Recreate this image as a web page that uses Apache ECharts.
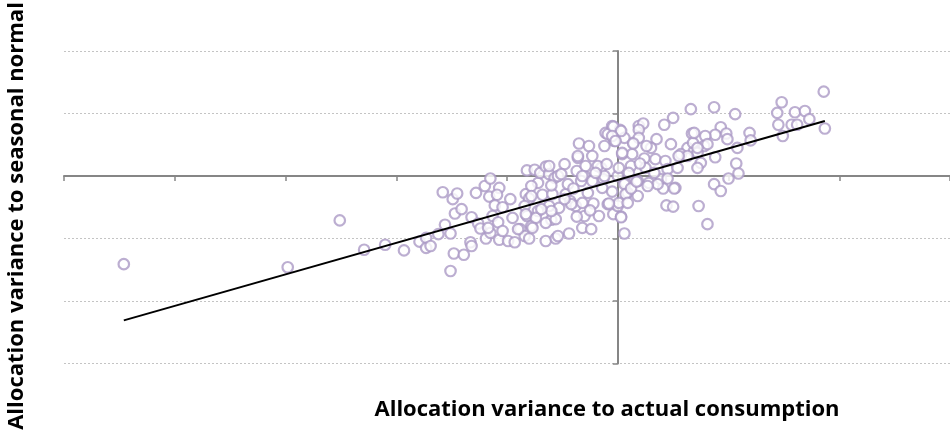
<!DOCTYPE html>
<html>
<head>
<meta charset="utf-8">
<script src="https://cdn.jsdelivr.net/npm/echarts@6/dist/echarts.min.js"></script>
<style>
  html, body { margin: 0; padding: 0; background: #fff; }
  #chart { width: 950px; height: 436px; }
</style>
</head>
<body>
<div id="chart"></div>
<script>
// axis titles
const xTitle = 'Allocation variance to actual consumption'
const yTitle = 'Allocation variance to seasonal normal'

// scatter points, [variance to actual, variance to seasonal normal] (axis units)
const points = [
  [-4.46, -1.41], [-2.98, -1.46], [-2.51, -0.71], [-2.29, -1.18], [-2.10, -1.10], [-1.93, -1.19],
  [-1.79, -1.05], [-1.73, -0.99], [-1.73, -1.15], [-1.69, -1.12], [-1.62, -0.93], [-1.56, -0.78],
  [-1.51, -0.92], [-1.58, -0.26], [-1.49, -0.37], [-1.45, -0.28], [-1.47, -0.60], [-1.41, -0.53],
  [-1.48, -1.24], [-1.39, -1.26], [-1.51, -1.52], [-1.32, -0.66], [-1.33, -1.06], [-1.32, -1.12],
  [-1.28, -0.27], [-1.26, -0.76], [-1.24, -0.84], [-1.20, -0.16], [-1.15, -0.04], [-1.16, -0.33],
  [-1.07, -0.19], [-1.09, -0.30], [-1.19, -1.00], [-1.15, -0.91], [-1.11, -0.47], [-1.04, -0.50],
  [-1.13, -0.64], [-1.08, -0.74], [-1.07, -1.02], [-1.04, -0.88], [-0.99, -1.04], [-0.97, -0.37],
  [-0.95, -0.67], [-0.93, -1.06], [-0.88, -0.85], [-0.84, -0.96], [-0.80, -1.00], [-0.82, -0.64],
  [-0.78, -0.80], [-0.82, 0.09], [-0.75, 0.10], [-0.83, -0.29], [-0.80, -0.36], [-0.72, -0.11],
  [-0.70, 0.05], [-0.65, 0.15], [-0.62, 0.03], [-0.68, -0.30], [-0.72, -0.56], [-0.62, -0.48],
  [-0.60, -0.70], [-0.65, -0.75], [-0.56, -0.69], [-0.53, -0.51], [-0.65, -1.04], [-0.56, -1.00],
  [-0.44, -0.92], [-0.57, -0.03], [-0.48, 0.19], [-0.54, 0.00], [-0.47, -0.29], [-0.43, -0.40],
  [-0.36, 0.29], [-0.35, 0.52], [-0.26, 0.48], [-0.23, 0.32], [-0.37, 0.08], [-0.30, 0.00],
  [-0.38, -0.48], [-0.30, -0.64], [-0.37, -0.65], [-0.32, -0.83], [-0.24, -0.85], [-0.33, -0.08],
  [-0.27, -0.27], [-0.22, -0.44], [-0.17, -0.64], [-0.13, -0.05], [-0.15, 0.13], [-0.12, 0.48],
  [-0.11, 0.69], [-0.05, 0.80], [-0.03, 0.56], [0.02, 0.74], [0.04, 0.35], [-0.04, -0.61],
  [0.03, -0.65], [0.06, -0.92], [-0.09, -0.45], [0.00, 0.00], [0.07, -0.11], [0.12, 0.16],
  [0.19, 0.80], [0.23, 0.84], [0.19, 0.74], [0.24, 0.28], [0.14, 0.53], [0.09, -0.27],
  [0.66, 1.07], [0.50, 0.93], [0.42, 0.82], [-0.09, 0.67], [0.06, 0.61], [0.19, 0.61],
  [0.35, 0.59], [0.48, 0.51], [0.30, 0.45], [0.26, 0.48], [0.67, 0.68], [0.63, 0.45],
  [0.69, 0.40], [0.57, 0.35], [0.13, 0.35], [0.34, 0.27], [0.43, 0.24], [-0.29, 0.16],
  [-0.18, 0.16], [-0.10, 0.19], [0.01, 0.13], [0.25, 0.13], [0.45, 0.11], [0.54, 0.13],
  [-0.23, -0.08], [0.18, -0.08], [0.28, -0.11], [0.39, -0.05], [0.52, -0.19], [-0.45, -0.13],
  [0.06, -0.13], [-0.14, -0.19], [1.86, 1.35], [1.48, 1.18], [0.87, 1.10], [1.06, 0.99],
  [1.44, 1.01], [1.60, 1.02], [1.69, 1.04], [1.73, 0.91], [1.45, 0.82], [1.57, 0.82],
  [1.62, 0.82], [1.87, 0.76], [1.49, 0.64], [0.93, 0.78], [0.88, 0.66], [0.79, 0.64],
  [0.98, 0.68], [1.19, 0.69], [0.99, 0.59], [1.20, 0.57], [0.78, 0.48], [1.08, 0.45],
  [0.72, 0.37], [0.75, 0.21], [0.88, 0.30], [1.07, 0.20], [1.09, 0.04], [1.00, -0.04],
  [0.87, -0.13], [0.93, -0.24], [0.72, 0.13], [0.68, 0.53], [0.81, 0.51], [0.72, 0.45],
  [0.63, 0.32], [0.73, -0.48], [0.44, -0.47], [0.50, -0.49], [0.81, -0.77], [0.45, -0.04],
  [0.41, -0.20], [0.36, -0.13], [0.27, -0.16], [0.07, -0.29], [0.18, -0.32], [0.12, -0.20],
  [0.00, -0.48], [-1.17, -0.83], [-0.74, -0.67], [-0.84, -0.48], [-0.59, -0.29], [-0.60, -0.56],
  [-0.42, -0.45], [-0.32, -0.43], [0.01, -0.43], [0.09, -0.43], [-0.48, -0.37], [-0.62, 0.16],
  [-0.78, -0.16],
  // overlapping circles in the dense core
  [-0.04, 0.79], [0.03, 0.72], [-0.05, 0.64], [-0.02, 0.56], [0.14, 0.52], [-0.36, 0.32],
  [0.04, 0.37], [-0.51, 0.03], [-0.32, 0.00], [-0.12, 0.00], [0.69, 0.69], [0.55, 0.32],
  [0.03, -0.66], [0.51, -0.20], [0.17, -0.09], [-0.08, -0.44], [-0.90, -0.85], [-0.77, -0.83],
  [-0.83, -0.61], [-0.69, -0.53], [-0.78, -0.32], [-0.54, -0.96], [-0.20, 0.05], [0.10, 0.05],
  [-0.40, -0.20], [-0.05, -0.25], [0.33, 0.05], [-0.60, -0.15], [0.20, 0.20], [-0.25, -0.55]
]

// linear trend line end points
const trendX = [-4.46, 1.87]
const trendY = [-2.31, 0.88]

// axis ranges
const xRange = [-5, 3]
const yRange = [-3, 2]

const chart = echarts.init(document.getElementById('chart'), null, { renderer: 'canvas' })

const axisGrey = '#868686'
const titleFont = { fontFamily: 'Open Sans', fontWeight: 'bold', fontSize: 22, fill: '#000' }

const option = {
  animation: false,
  backgroundColor: '#fff',
  grid: { left: 64, top: 51, width: 890, height: 312.5, containLabel: false },
  xAxis: {
    type: 'value',
    min: xRange[0],
    max: xRange[1],
    interval: 1,
    axisLine: { onZero: true, lineStyle: { color: axisGrey, width: 2 } },
    axisTick: { show: true, length: 5, lineStyle: { color: axisGrey, width: 1.5 } },
    axisLabel: { show: false },
    splitLine: { show: false }
  },
  yAxis: {
    type: 'value',
    min: yRange[0],
    max: yRange[1],
    interval: 1,
    axisLine: { onZero: true, lineStyle: { color: axisGrey, width: 2 } },
    axisTick: { show: true, length: 5, lineStyle: { color: axisGrey, width: 1.5 } },
    axisLabel: { show: false },
    splitLine: { show: true, lineStyle: { color: '#c4c4c4', width: 1, type: [2, 2] } }
  },
  graphic: [
    {
      type: 'text',
      x: 607, y: 410,
      style: Object.assign({ text: xTitle, align: 'center', verticalAlign: 'middle' }, titleFont)
    },
    {
      type: 'text',
      x: 17, y: 216,
      rotation: Math.PI / 2,
      style: Object.assign({ text: yTitle, align: 'center', verticalAlign: 'middle' }, titleFont)
    }
  ],
  series: [
    {
      type: 'scatter',
      data: points,
      symbol: 'circle',
      symbolSize: 10.5,
      itemStyle: { color: '#ffffff', borderColor: '#ab9ac5', borderWidth: 2.2 }
    },
    {
      type: 'line',
      data: trendX.map((x, i) => [x, trendY[i]]),
      symbol: 'none',
      lineStyle: { color: '#000', width: 2 },
      z: 3
    }
  ]
}

chart.setOption(option)
</script>
</body>
</html>
